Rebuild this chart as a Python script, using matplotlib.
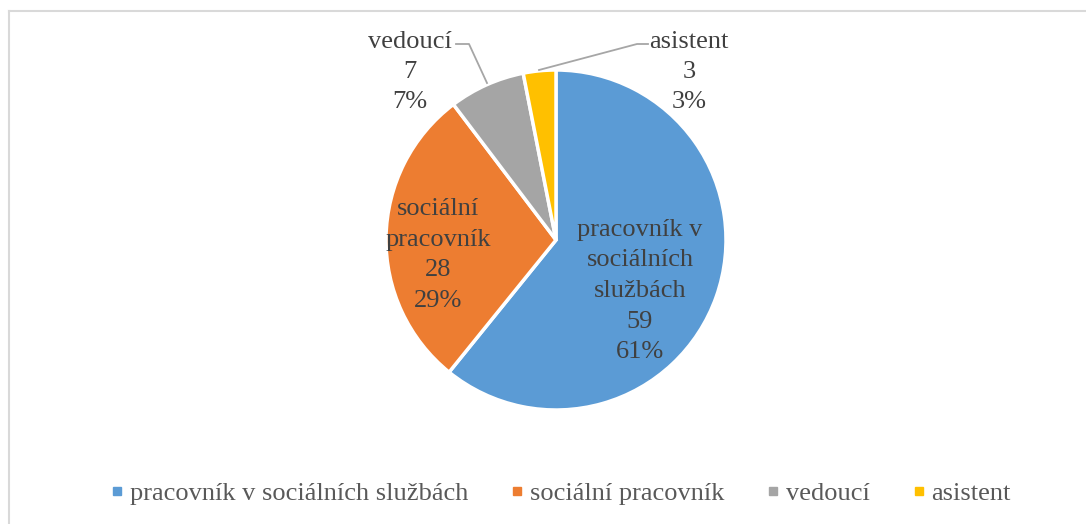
import matplotlib
matplotlib.use("Agg")
import matplotlib.pyplot as plt
from matplotlib.lines import Line2D
import numpy as np

categories = ["pracovník v sociálních službách", "sociální pracovník", "vedoucí", "asistent"]
values = [59, 28, 7, 3]
colors = ["#5B9BD5", "#ED7D31", "#A5A5A5", "#FFC000"]

W, H = 1086, 524
plt.rcParams['font.family'] = ['Liberation Serif', 'DejaVu Serif']
fig = plt.figure(figsize=(W / 100, H / 100), dpi=100)
ax = fig.add_axes([0, 0, 1, 1])

cx, cy, r = 556, H - 240, 170
wedges, _ = ax.pie(values, colors=colors, startangle=90, counterclock=False,
                   center=(cx, cy), radius=r,
                   wedgeprops=dict(edgecolor="white", linewidth=2.5))
ax.set_xlim(0, W)
ax.set_ylim(0, H)
ax.set_aspect('auto')
ax.axis('off')

total = sum(values)
pcts = [round(v / total * 100) for v in values]
label_texts = {
    0: "pracovník v\nsociálních\nslužbách",
    1: "sociální\npracovník",
    2: "vedoucí",
    3: "asistent",
}
label_pos = {0: (640, 291), 1: (438, 255), 2: (410, 72), 3: (689, 72)}
tc = "#404040"
fs = 19
for i in range(len(values)):
    x, y = label_pos[i]
    ax.text(x, H - y, f"{label_texts[i]}\n{values[i]}\n{pcts[i]}%", ha="center", va="center",
            fontsize=fs, color=tc, linespacing=1.5)

lc = "#A6A6A6"
ax.plot([456, 469, 487], [H - 44, H - 44, H - 83], color=lc, lw=1.3)
ax.plot([648, 637, 539], [H - 44, H - 44, H - 70], color=lc, lw=1.3)

# frame (top and left edges visible)
ax.plot([8.5, W], [H - 11, H - 11], color="#D9D9D9", lw=1.5)
ax.plot([8.5, 8.5], [H - 11, 0], color="#D9D9D9", lw=1.5)

handles = [Line2D([], [], marker='s', linestyle='none', markersize=5.8,
                  markerfacecolor=c, markeredgecolor=c) for c in colors]
leg = fig.legend(handles, categories, loc="center", bbox_to_anchor=(560.5 / W, 1 - 493 / H),
                 ncol=4, frameon=False, fontsize=fs, handlelength=0.5, handletextpad=0.24,
                 columnspacing=1.6, labelcolor="#595959", borderpad=0, borderaxespad=0)

fig.savefig("out.png", dpi=100)
